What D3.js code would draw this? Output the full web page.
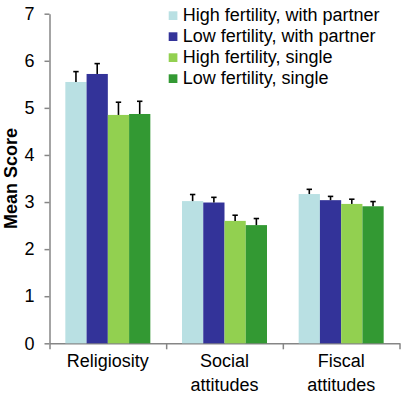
<!DOCTYPE html>
<html>
<head>
<meta charset="utf-8">
<script src="https://cdn.jsdelivr.net/npm/d3@7"></script>
<style>
  body { margin: 0; background: #fff; }
  svg { display: block; font-family: "Liberation Sans", Arial, sans-serif; }
  .axis path, .axis line { stroke: #868686; stroke-width: 1.5; }
  .axis text { font-size: 18px; fill: #000; font-family: "Liberation Sans", Arial, sans-serif; }
</style>
</head>
<body>
<svg id="my-svg" width="405" height="398"></svg>
<script>
const categories = [["Religiosity"], ["Social", "attitudes"], ["Fiscal", "attitudes"]];
const seriesNames = ["High fertility, with partner", "Low fertility, with partner", "High fertility, single", "Low fertility, single"];
const seriesColors = ["#b9e0e3", "#333399", "#92d050", "#339933"];
// mean per category, one array per series
const highPartner = [5.55, 3.02, 3.17];
const lowPartner = [5.72, 2.99, 3.04];
const highSingle = [4.85, 2.60, 2.96];
const lowSingle = [4.87, 2.51, 2.91];
// top of error bar
const highPartnerErr = [5.77, 3.16, 3.27];
const lowPartnerErr = [5.94, 3.10, 3.12];
const highSingleErr = [5.12, 2.72, 3.06];
const lowSingleErr = [5.14, 2.65, 3.01];
const yTicks = [0, 1, 2, 3, 4, 5, 6, 7];

const means = [highPartner, lowPartner, highSingle, lowSingle];
const errs = [highPartnerErr, lowPartnerErr, highSingleErr, lowSingleErr];

const svg = d3.select('svg');
const margin = {top: 13.7, left: 49.5, right: 5.5, bottom: 54.7};
const width = 405 - margin.left - margin.right;
const height = 398 - margin.top - margin.bottom;

const g = svg.append('g').attr('transform', `translate(${margin.left},${margin.top})`);

const catKeys = categories.map((d, i) => i);
const x0 = d3.scaleBand().domain(catKeys).range([0, width]).padding(0);
const x1 = d3.scaleBand().domain(d3.range(seriesNames.length))
  .range([0, x0.bandwidth()]).paddingInner(0).paddingOuter(0.745);
const y = d3.scaleLinear().domain([0, 7]).range([height, 0]);

// y axis
g.append('g').attr('class', 'axis')
  .call(d3.axisLeft(y).tickValues(yTicks).tickFormat(d3.format('d'))
    .tickSize(5).tickSizeOuter(0).tickPadding(10));

// x axis: separators at band edges
const xb = d3.scaleLinear().domain([0, categories.length]).range([0, width]);
g.append('g').attr('class', 'axis')
  .attr('transform', `translate(0,${height})`)
  .call(d3.axisBottom(xb).tickValues(d3.range(categories.length + 1)).tickSize(6).tickSizeOuter(0).tickFormat(''));

// category labels
const labels = g.append('g').selectAll('text').data(categories).join('text')
  .attr('text-anchor', 'middle')
  .attr('font-size', 18)
  .attr('x', (d, i) => x0(i) + x0.bandwidth() / 2)
  .attr('y', height + 23.5);
labels.selectAll('tspan').data(d => d).join('tspan')
  .attr('x', function() { return d3.select(this.parentNode).attr('x'); })
  .attr('dy', (d, i) => i === 0 ? 0 : 24)
  .text(d => d);

// bars
const groups = g.selectAll('.series').data(means).join('g')
  .attr('class', 'series')
  .attr('fill', (d, s) => seriesColors[s]);

groups.each(function(vals, s) {
  d3.select(this).selectAll('rect').data(vals).join('rect')
    .attr('x', (d, i) => x0(i) + x1(s))
    .attr('y', d => y(d))
    .attr('width', x1.bandwidth())
    .attr('height', d => height - y(d));
});

// error bars
errs.forEach((vals, s) => {
  const eg = g.append('g').attr('stroke', '#000').attr('stroke-width', 1.6);
  vals.forEach((e, i) => {
    const cx = x0(i) + x1(s) + x1.bandwidth() / 2;
    eg.append('line').attr('x1', cx).attr('x2', cx)
      .attr('y1', y(means[s][i])).attr('y2', y(e));
    eg.append('line').attr('x1', cx - 2.7).attr('x2', cx + 2.7)
      .attr('y1', y(e)).attr('y2', y(e));
  });
});

// y label
svg.append('text')
  .attr('transform', `translate(17,${margin.top + height / 2}) rotate(-90)`)
  .attr('text-anchor', 'middle')
  .attr('font-size', 18)
  .attr('font-weight', 'bold')
  .text('Mean Score');

// legend
const legend = svg.append('g').attr('transform', 'translate(168.7,0)');
const rows = legend.selectAll('g').data(seriesNames).join('g')
  .attr('transform', (d, i) => `translate(0,${21 + i * 21})`);
rows.append('rect')
  .attr('x', 0).attr('y', -9.7).attr('width', 8.7).attr('height', 8.7)
  .attr('fill', (d, i) => seriesColors[i]);
rows.append('text')
  .attr('x', 14).attr('y', 0)
  .attr('font-size', 18)
  .text(d => d);
</script>
</body>
</html>
